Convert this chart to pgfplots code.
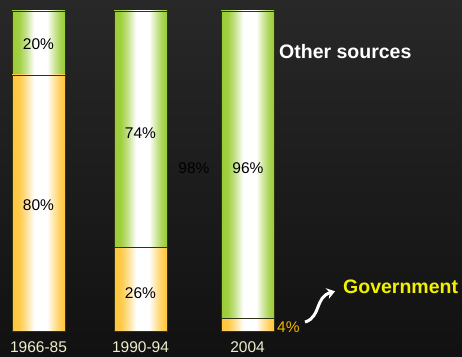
\documentclass[border=0pt]{standalone}
\usepackage{fontspec}
\setmainfont{Liberation Sans}
\usepackage{pgfplots}
\pgfplotsset{compat=1.18}
\usetikzlibrary{arrows.meta}
\definecolor{bgtop}{HTML}{282828}
\definecolor{bgbot}{HTML}{111111}
\definecolor{grn}{HTML}{99CC33}
\definecolor{org}{HTML}{FFC63A}
\definecolor{yrcol}{HTML}{EEEECC}
\definecolor{gold}{HTML}{F0B400}
\definecolor{govy}{HTML}{F2F200}
\definecolor{barline}{RGB}{50,50,20}
\pgfdeclarehorizontalshading{grnshade}{100bp}{color(0bp)=(grn); color(25bp)=(grn); color(31.5bp)=(grn!92!white); color(37.5bp)=(grn!60!white); color(46bp)=(white); color(58bp)=(white); color(65bp)=(grn!50!white); color(70bp)=(grn!82!white); color(75bp)=(grn); color(100bp)=(grn)}
\pgfdeclarehorizontalshading{orgshade}{100bp}{color(0bp)=(org); color(25bp)=(org); color(31.5bp)=(org!92!white); color(37.5bp)=(org!60!white); color(46bp)=(white); color(58bp)=(white); color(65bp)=(org!50!white); color(70bp)=(org!82!white); color(75bp)=(org); color(100bp)=(org)}
\tikzset{pct/.style={font=\fontsize{15.5}{16}\selectfont, text=black}}
\pgfplotsset{
  baseax/.style={
    at={(0pt,25pt)}, anchor=south west,
    scale only axis, width=462pt, height=320pt,
    xmin=0, xmax=462, ymin=0, ymax=100,
    axis line style={draw=none},
    ytick=\empty, xtick=\empty,
    major tick length=0pt,
    clip=false,
  },
  barax/.style={baseax, ybar stacked, bar width=53},
  govbar/.style={draw=barline, line width=0.8pt, shading=orgshade},
  othbar/.style={draw=barline, line width=0.8pt, shading=grnshade},
}
\begin{document}
\begin{tikzpicture}
\shade[top color=bgtop, bottom color=bgbot] (0,0) rectangle (462pt,356pt);
% 1966-85
\begin{axis}[barax]
\addplot[govbar] coordinates {(38.5,80)};
\addplot[othbar] coordinates {(38.5,20)};
\end{axis}
% 1990-94
\begin{axis}[barax]
\addplot[govbar] coordinates {(140.5,26)};
\addplot[othbar] coordinates {(140.5,74)};
\end{axis}
% 2004
\begin{axis}[barax]
\addplot[govbar] coordinates {(247.5,4)};
\addplot[othbar] coordinates {(247.5,96)};
\end{axis}
% labels
\begin{axis}[baseax,
  xtick={38.5,140.5,247.5},
  xticklabels={1966-85,1990-94,2004},
  xticklabel style={font=\fontsize{15.5}{16}\selectfont, text=yrcol, yshift=-7.5pt},
]
\node[pct] at (axis cs:38.5,89.7) {20\%};
\node[pct] at (axis cs:38.5,39.4) {80\%};
\node[pct] at (axis cs:140.5,61.9) {74\%};
\node[pct] at (axis cs:140.5,11.9) {26\%};
\node[pct] at (axis cs:194,50.9) {98\%};
\node[pct] at (axis cs:248,50.9) {96\%};
\node[font=\fontsize{15.5}{16}\selectfont, text=gold, anchor=west, inner sep=0pt] at (axis cs:277,1.2) {4\%};
\node[font=\fontsize{19.5}{20}\selectfont\bfseries, text=white, anchor=west, inner sep=0pt] at (axis cs:279,87.2) {Other sources};
\node[font=\fontsize{19.5}{20}\selectfont\bfseries, text=govy, anchor=west, inner sep=0pt] at (axis cs:343,13.75) {Government};
\draw[white, line width=3pt, -{Stealth[length=8pt,width=11pt]}]
  (axis cs:305,2.8) .. controls (axis cs:321,4.3) and (axis cs:315,10.6) .. (axis cs:335,12.4);
\end{axis}
\pgfresetboundingbox
\useasboundingbox (0,0) rectangle (462pt,356pt);
\end{tikzpicture}
\end{document}
